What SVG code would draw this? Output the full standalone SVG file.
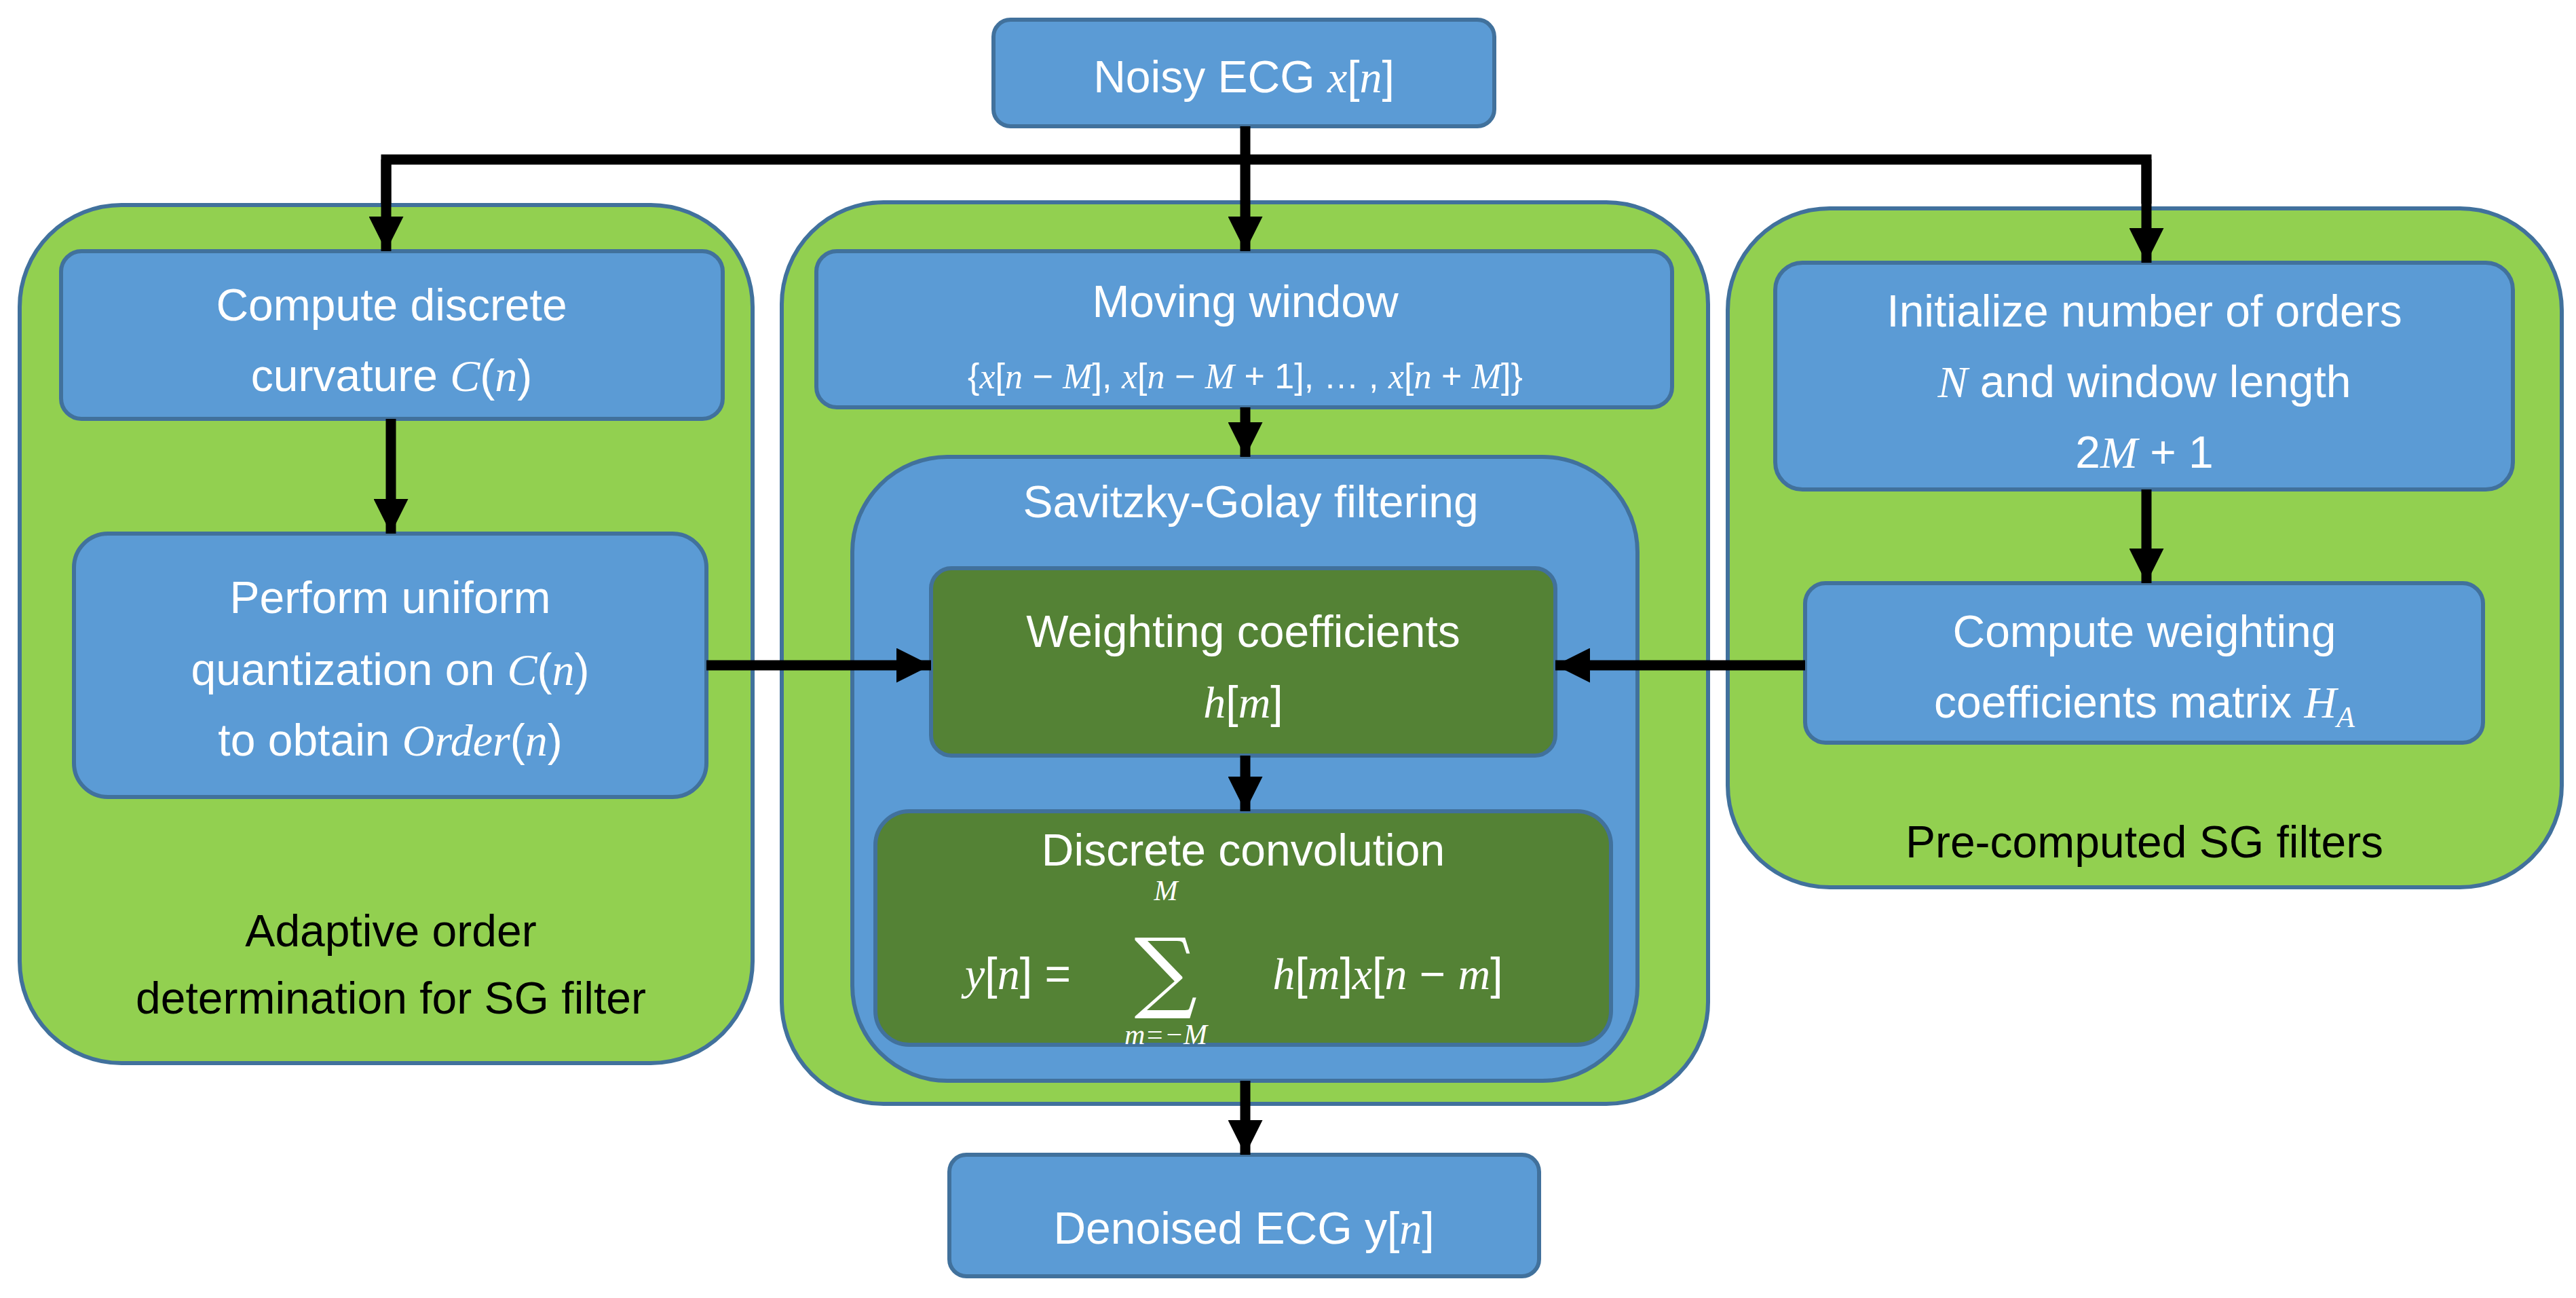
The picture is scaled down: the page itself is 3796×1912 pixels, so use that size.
<svg xmlns="http://www.w3.org/2000/svg" width="3796" height="1912" viewBox="0 0 3796 1912">
<style>
.g{fill:#92D050;stroke:#41719C;stroke-width:6}
.b{fill:#5B9BD5;stroke:#41719C;stroke-width:6}
.d{fill:#548235;stroke:#41719C;stroke-width:6}
text{font-family:"Liberation Sans",Arial,sans-serif;font-size:66px;fill:#fff;text-anchor:middle}
.k{fill:#000}
.m{font-family:"Liberation Serif","Times New Roman",serif;font-style:italic}
.c line,.c polyline{stroke:#000;stroke-width:15;fill:none}
</style>
<defs><marker id="a" markerWidth="3.4" markerHeight="3.4" refX="3.4" refY="1.7" orient="auto" markerUnits="strokeWidth"><path d="M0,0L3.4,1.7L0,3.4z" fill="#000"/></marker></defs>
<rect width="3796" height="1912" fill="#fff"/>
<g id="left"><rect class="g" x="29" y="302" width="1080" height="1264" rx="150"/>
<text class="k" x="576" y="1394">Adaptive order</text><text class="k" x="576" y="1493">determination for SG filter</text></g>
<g id="mid"><rect class="g" x="1152" y="298" width="1365" height="1328" rx="150"/></g>
<g id="right"><rect class="g" x="2546" y="307" width="1229" height="1000" rx="150"/>
<text class="k" x="3160" y="1263">Pre-computed SG filters</text></g>
<g id="noisy"><rect class="b" x="1464" y="29" width="738" height="157" rx="25"/><text x="1833" y="136">Noisy ECG <tspan class="m">x</tspan>[<tspan class="m">n</tspan>]</text></g>
<g id="curv"><rect class="b" x="90" y="370" width="975" height="247" rx="30"/><text x="577" y="472">Compute  discrete</text><text x="577" y="576">curvature <tspan class="m">C</tspan>(<tspan class="m">n</tspan>)</text></g>
<g id="quant"><rect class="b" x="109" y="786" width="932" height="388" rx="50"/><text x="575" y="903">Perform uniform</text><text x="575" y="1009">quantization on <tspan class="m">C</tspan>(<tspan class="m">n</tspan>)</text><text x="575" y="1113">to obtain <tspan class="m">Order</tspan>(<tspan class="m">n</tspan>)</text></g>
<g id="win"><rect class="b" x="1203" y="370" width="1261" height="230" rx="30"/><text x="1835" y="467">Moving window</text><text x="1835" y="572" style="font-size:52px">{<tspan class="m">x</tspan>[<tspan class="m">n</tspan> − <tspan class="m">M</tspan>], <tspan class="m">x</tspan>[<tspan class="m">n</tspan> − <tspan class="m">M</tspan> + 1], … , <tspan class="m">x</tspan>[<tspan class="m">n</tspan> + <tspan class="m">M</tspan>]}</text></g>
<g id="sg"><rect class="b" x="1256" y="673" width="1157" height="919" rx="140"/><text x="1843" y="762">Savitzky-Golay filtering</text></g>
<g id="wc"><rect class="d" x="1372" y="837" width="920" height="276" rx="30"/><text x="1832" y="953">Weighting coefficients</text><text x="1832" y="1057"><tspan class="m">h</tspan>[<tspan class="m">m</tspan>]</text></g>
<g id="conv"><rect class="d" x="1290" y="1195" width="1084" height="344" rx="50"/><text x="1832" y="1275">Discrete convolution</text>
<text x="1500" y="1457"><tspan class="m">y</tspan>[<tspan class="m">n</tspan>] =</text>
<text x="1718" y="1475" style="font-family:'DejaVu Serif',serif;font-size:130px">∑</text>
<text x="1718" y="1326" class="m" style="font-size:42px">M</text>
<text x="1718" y="1538" class="m" style="font-size:42px">m=−M</text>
<text x="2045" y="1457"><tspan class="m">h</tspan>[<tspan class="m">m</tspan>]<tspan class="m">x</tspan>[<tspan class="m">n</tspan> − <tspan class="m">m</tspan>]</text></g>
<g id="init"><rect class="b" x="2616" y="387" width="1087" height="334" rx="40"/><text x="3160" y="481">Initialize number of orders</text><text x="3160" y="585"><tspan class="m">N</tspan> and window length</text><text x="3160" y="689">2<tspan class="m">M</tspan> + 1</text></g>
<g id="ha"><rect class="b" x="2660" y="859" width="999" height="235" rx="30"/><text x="3160" y="953">Compute weighting</text><text x="3160" y="1057">coefficients matrix <tspan class="m">H</tspan><tspan class="m" style="font-size:44px" dy="14">A</tspan></text></g>
<g id="out"><rect class="b" x="1399" y="1701" width="869" height="179" rx="25"/><text x="1833" y="1832">Denoised ECG y[<tspan class="m">n</tspan>]</text></g>
<g class="c" id="connectors">
<line x1="1835" y1="186" x2="1835" y2="235"/>
<polyline points="569,300 569,235 3163,235 3163,300"/>
<line x1="569" y1="235" x2="569" y2="370" marker-end="url(#a)"/>
<line x1="1835" y1="235" x2="1835" y2="370" marker-end="url(#a)"/>
<line x1="3163" y1="235" x2="3163" y2="387" marker-end="url(#a)"/>
<line x1="576" y1="617" x2="576" y2="786" marker-end="url(#a)"/>
<line x1="1835" y1="600" x2="1835" y2="673" marker-end="url(#a)"/>
<line x1="1835" y1="1113" x2="1835" y2="1195" marker-end="url(#a)"/>
<line x1="1041" y1="980" x2="1372" y2="980" marker-end="url(#a)"/>
<line x1="2660" y1="980" x2="2292" y2="980" marker-end="url(#a)"/>
<line x1="3163" y1="721" x2="3163" y2="859" marker-end="url(#a)"/>
<line x1="1835" y1="1592" x2="1835" y2="1701" marker-end="url(#a)"/>
</g>
</svg>
